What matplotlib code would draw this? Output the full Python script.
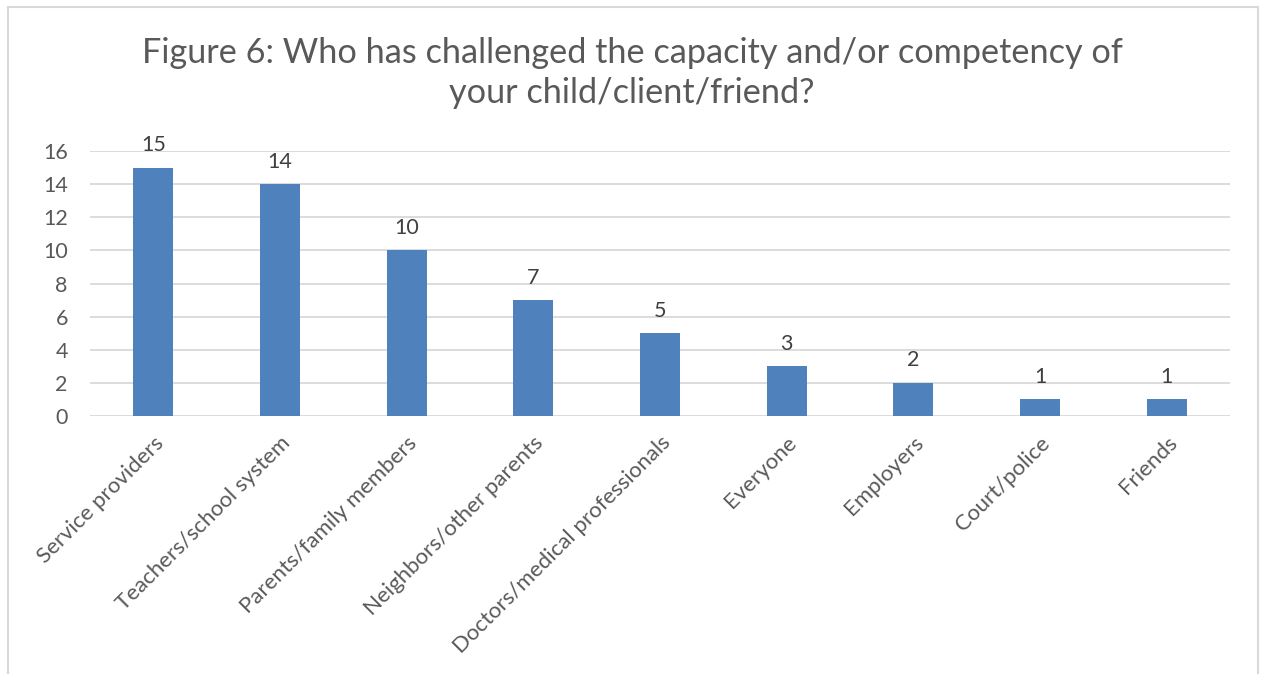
import matplotlib
matplotlib.use("Agg")
import matplotlib.pyplot as plt
from matplotlib.patches import Rectangle

categories = ["Service providers", "Teachers/school system", "Parents/family members",
              "Neighbors/other parents", "Doctors/medical professionals", "Everyone",
              "Employers", "Court/police", "Friends"]
values = [15, 14, 10, 7, 5, 3, 2, 1, 1]
yticks = [0, 2, 4, 6, 8, 10, 12, 14, 16]
title = "Figure 6: Who has challenged the capacity and/or competency of\nyour child/client/friend?"

plt.rcParams['font.family'] = ['Lato', 'DejaVu Sans']

fig = plt.figure(figsize=(12.64, 6.74), dpi=100)
fig.patch.set_facecolor("white")
ax = fig.add_axes([90/1264, 1-416/674, (1230-90)/1264, (416-151)/674])

x = list(range(len(categories)))
bars = ax.bar(x, values, width=0.316, color="#4F81BD", zorder=3)
for xi, v in zip(x, values):
    ax.annotate(str(v), (xi, v), xytext=(0, 9), textcoords="offset points",
                ha="center", va="bottom", fontsize=15.5, color="#404040")

ax.set_xlim(-0.5, len(categories) - 0.5)
ax.set_ylim(0, 16)
ax.set_yticks(yticks)
ax.set_yticklabels([str(t) for t in yticks], fontsize=15.5, color="#595959")
ax.set_xticks(x)
ax.set_xticklabels(categories, rotation=45, ha="right", rotation_mode="anchor",
                   fontsize=16, color="#595959")
ax.tick_params(axis="both", length=0)
ax.tick_params(axis="y", pad=16)
ax.tick_params(axis="x", pad=12)
ax.grid(axis="y", color="#D9D9D9", linewidth=1.3, zorder=0)
for s in ax.spines.values():
    s.set_visible(False)

fig.text(0.5, 1-73/674, title, ha="center", va="center", fontsize=24.7,
         color="#595959", linespacing=1.3)

fig.patches.append(Rectangle((8/1264, -0.05), 1250/1264, 1.05 - 7/674,
                             transform=fig.transFigure, fill=False,
                             edgecolor="#D9D9D9", linewidth=1.5))

fig.savefig("out.png", dpi=100)
